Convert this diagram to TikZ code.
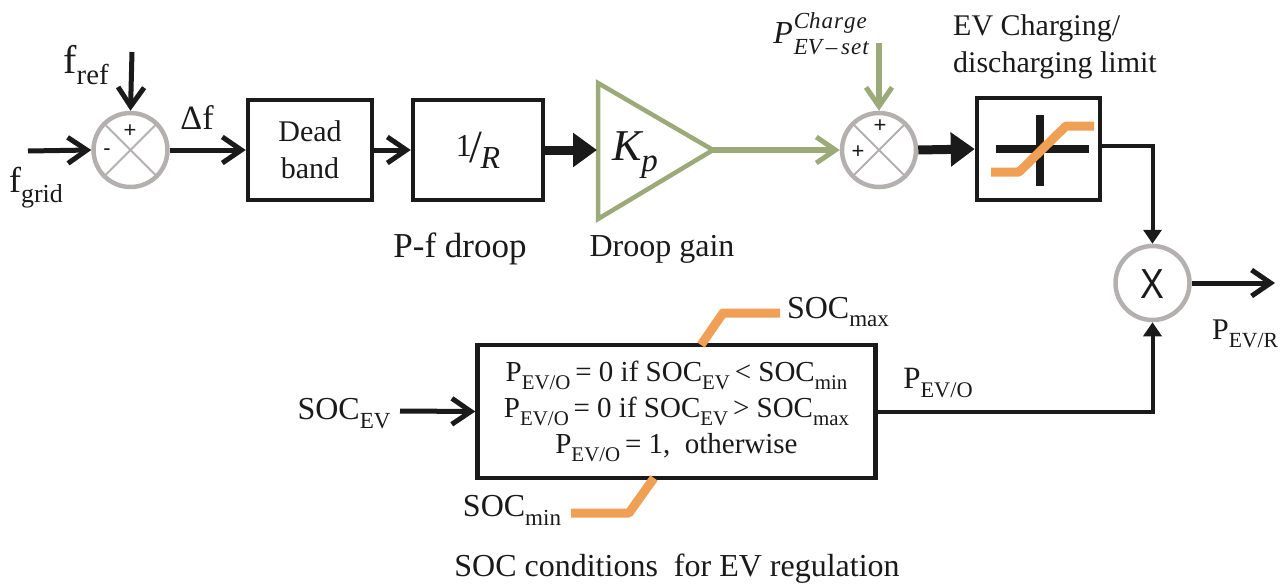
\documentclass[tikz,border=0pt]{standalone}
\usepackage{fontspec}
\setmainfont{Liberation Serif}
\setsansfont{Liberation Sans}
\usetikzlibrary{arrows.meta,positioning}
\definecolor{ink}{HTML}{1A1A1A}
\definecolor{ringgray}{HTML}{B5B0B0}
\definecolor{olive}{HTML}{9BAA78}
\definecolor{amber}{HTML}{EFA055}
\newcommand{\dn}[1]{\raisebox{-0.28em}{\fontsize{0.72em}{0.8em}\selectfont #1}}
\tikzset{
  lbl/.style={text=ink,inner sep=0pt,font=\fontsize{32}{36}\selectfont,align=center},
  sumring/.style={circle,draw=ringgray,line width=4.5pt,minimum size=74pt,inner sep=0pt,fill=white},
  blockbox/.style={draw=ink,line width=4.5pt,inner sep=0pt,fill=white,text=ink},
  sig/.style={draw=ink,line width=5pt,-{Straight Barb[length=19pt,width=26pt,line width=5pt]}},
  sigfat/.style={draw=ink,line width=9pt,-{Triangle[length=24pt,width=33pt]}},
  siggreen/.style={draw=olive,line width=5.5pt,-{Straight Barb[length=19pt,width=26pt,line width=5pt]}},
  ramp/.style={draw=amber,line width=9pt,line join=round},
  cross/.style={draw=ringgray,line width=1.8pt},
  signmark/.style={inner sep=0pt,text=ink,font=\sffamily\fontsize{22}{22}\selectfont},
  wire/.style={draw=ink,line width=4pt,-{Triangle[length=14pt,width=18pt]}},
}
\begin{document}
\begin{tikzpicture}[x=1pt,y=-1pt]
\useasboundingbox (0,0) rectangle (1287,586);
% summing junction 1
\node[sumring] (s1) at (130.5,150) {};
\draw[cross] (s1.45) -- (s1.225);
\draw[cross] (s1.135) -- (s1.315);
\node[signmark] (s1p) at (130,131) {+};
\node[signmark] (s1m) at (107,152) {-};
\coordinate (fgridin) at (28,151);
\coordinate (frefin) at (132,52);
\draw[sig] (fgridin) -- (s1.west);
\draw[sig] (frefin) -- (s1.north);
\node[lbl,font=\fontsize{40}{40}\selectfont] (fref) at (86,65) {f\dn{ref}};
\node[lbl,font=\fontsize{36}{36}\selectfont] (fgrid) at (36,188) {f\dn{grid}};
\node[lbl,font=\fontsize{34}{34}\selectfont] (df) at (197,118) {Δf};
% blocks
\node[blockbox,minimum width=124pt,minimum height=100pt,font=\fontsize{30}{37}\selectfont,align=center] (dead) at (310,150) {Dead\\band};
\node[blockbox,minimum width=130pt,minimum height=100pt] (droop) at (478,150) {};
\node[text=ink,inner sep=0pt,font=\fontsize{46}{46}\selectfont] (oneoverr) at (478,150) {\raisebox{6pt}{\fontsize{32}{32}\selectfont 1}\kern-2pt/\kern-2pt\raisebox{-6pt}{\fontsize{32}{32}\selectfont\itshape R}};
\draw[sig] (s1.east) -- (dead.west);
\draw[sig] (dead.east) -- (droop.west);
\node[lbl,font=\fontsize{35}{35}\selectfont] (pfd) at (460,249) {P-f droop};
% gain
\coordinate (ta) at (598,83);
\coordinate (tb) at (598,219);
\coordinate (tip) at (713,150);
\draw[draw=olive,line width=4.5pt,line join=miter] (ta) -- (tip) -- (tb) -- cycle;
\node[text=ink,inner sep=0pt,font=\fontsize{44}{44}\selectfont\itshape] (kp) at (635,155) {K\raisebox{-0.25em}{\fontsize{33}{33}\selectfont p}};
\coordinate (tin) at (597,150);
\draw[sigfat] (droop.east) -- (tin);
\node[lbl] (dg) at (662,249) {Droop gain};
% summing junction 2
\node[sumring] (s2) at (879,150) {};
\draw[cross] (s2.45) -- (s2.225);
\draw[cross] (s2.135) -- (s2.315);
\node[signmark] (s2p) at (880,126) {+};
\node[signmark] (s2q) at (858,152) {+};
\coordinate (chg) at (879,43);
\draw[siggreen] (tip) -- (s2.west);
\draw[siggreen] (chg) -- (s2.north);
\node[text=ink,inner sep=0pt] (pset) at (821,37) {\fontsize{32}{32}\selectfont\itshape P\kern1pt\raisebox{0pt}{\fontsize{23}{24}\selectfont\begin{tabular}{@{}l@{}}\raisebox{3pt}{Ch\kern1pt a\kern1pt r\kern1pt g\kern1pt e}\\[-1pt]EV\,--\,s\kern1pt e\kern1pt t\end{tabular}}};
% limiter
\node[blockbox,minimum width=123pt,minimum height=102pt] (limit) at (1038.5,149) {};
\draw[ink,line width=8pt] (996,149) -- (1089,149);
\draw[ink,line width=8pt] (1040,115) -- (1040,186);
\draw[ramp] (991,172) -- (1019,172) -- (1066,126) -- (1094,126);
\draw[sigfat] (s2.east) -- (limit.west);
\node[lbl,align=left,anchor=north west,font=\fontsize{30}{37}\selectfont] (evlim) at (953,14) {EV Charging/\\discharging limit};
% multiplier
\node[sumring] (mul) at (1152.5,283) {};
\node[inner sep=0pt,text=ink,font=\sffamily\fontsize{42}{42}\selectfont,xscale=0.85] (mulx) at (1152.5,284) {X};
\draw[wire] (limit.east |- 0,146) -| (mul.north);
\coordinate (pout) at (1275,283);
\draw[sig] (mul.east) -- (pout);
\node[lbl,font=\fontsize{30}{30}\selectfont] (pevr) at (1245,334) {P\dn{EV/R}};
% SOC box
\node[blockbox,minimum width=398pt,minimum height=133pt,font=\fontsize{29}{36}\selectfont,align=center] (soc) at (676.5,411.5) {P\dn{EV/O}\,= 0 if SOC\dn{EV}\,{<} SOC\dn{min}\\P\dn{EV/O}\,= 0 if SOC\dn{EV}\,{>} SOC\dn{max}\\P\dn{EV/O}\,= 1,\ \ otherwise};
\coordinate (socin) at (400,411);
\draw[sig] (socin) -- (soc.west);
\node[lbl] (socev) at (344,414) {SOC\dn{EV}};
\draw[wire] (soc.east) -| (mul.south);
\node[lbl,font=\fontsize{31}{31}\selectfont] (pevo) at (938,383) {P\dn{EV/O}};
% SOC ramps
\coordinate (mxa) at (701,345);
\coordinate (mxb) at (723,313);
\coordinate (mxc) at (780,313);
\coordinate (mna) at (654,478);
\coordinate (mnb) at (629,513);
\coordinate (mnc) at (571,513);
\draw[ramp] (mxa) -- (mxb) -- (mxc);
\draw[ramp] (mna) -- (mnb) -- (mnc);
\node[lbl] (socmax) at (838,312) {SOC\dn{max}};
\node[lbl] (socmin) at (512,510) {SOC\dn{min}};
\node[lbl] (cap) at (677,569) {SOC conditions\ \ for EV regulation};
\end{tikzpicture}
\end{document}
